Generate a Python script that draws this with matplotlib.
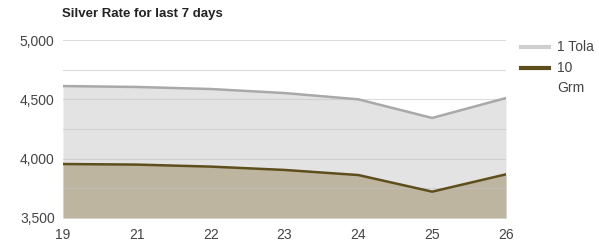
import matplotlib
matplotlib.use("Agg")
import matplotlib.pyplot as plt
from matplotlib.lines import Line2D

plt.rcParams["font.family"] = ["Liberation Sans", "DejaVu Sans"]

days = ["19", "21", "22", "23", "24", "25", "26"]
tola = [4612, 4604, 4587, 4553, 4500, 4343, 4511]
grm10 = [3955, 3950, 3933, 3905, 3862, 3722, 3868]
yticks = [3500, 4000, 4500, 5000]
ylabels = ["3,500", "4,000", "4,500", "5,000"]

fig = plt.figure(figsize=(5.99, 2.46), dpi=100)
ax = fig.add_axes([63/599, 1-218/246, (506-63)/599, (218-40)/246])
x = list(range(len(days)))
base = 3500
ax.fill_between(x, base, tola, color="#e3e3e3", lw=0, zorder=1)
ax.plot(x, tola, color="#a9a9a9", lw=1.8, zorder=4)
ax.fill_between(x, base, grm10, color="#bdb5a0", lw=0, zorder=2)
ax.plot(x, grm10, color="#5e4e1c", lw=1.8, zorder=5)

for v in [3750, 4000, 4250, 4500, 4750, 5000]:
    ax.axhline(v, color="#c4c4c4", lw=0.8, zorder=3, alpha=0.6)

ax.set_xlim(0, len(days) - 1)
ax.set_ylim(3500, 5000)
ax.set_yticks(yticks)
ax.set_yticklabels(ylabels)
ax.set_xticks(x)
ax.set_xticklabels(days)
for s in ax.spines.values():
    s.set_visible(False)
ax.tick_params(length=0, labelsize=10, colors="#444444")
ax.tick_params(axis="y", pad=6)
ax.tick_params(axis="x", pad=7)

fig.text(62/599, 1-14/246, "Silver Rate for last 7 days", fontsize=9.5,
         fontweight="bold", color="#222222", va="center", ha="left")

lx0, lx1 = 521/599, 549/599
for y, c in [(47, "#cfcfcf"), (68, "#5e4e1c")]:
    fig.add_artist(Line2D([lx0, lx1], [1-y/246, 1-y/246], color=c, lw=3,
                          transform=fig.transFigure))
fig.text(557/599, 1-47/246, "1 Tola", fontsize=10, color="#444444", va="center")
fig.text(557/599, 1-68/246, "10", fontsize=10, color="#444444", va="center")
fig.text(557/599, 1-88/246, "Grm", fontsize=10, color="#444444", va="center")

fig.savefig("out.png", dpi=100)
